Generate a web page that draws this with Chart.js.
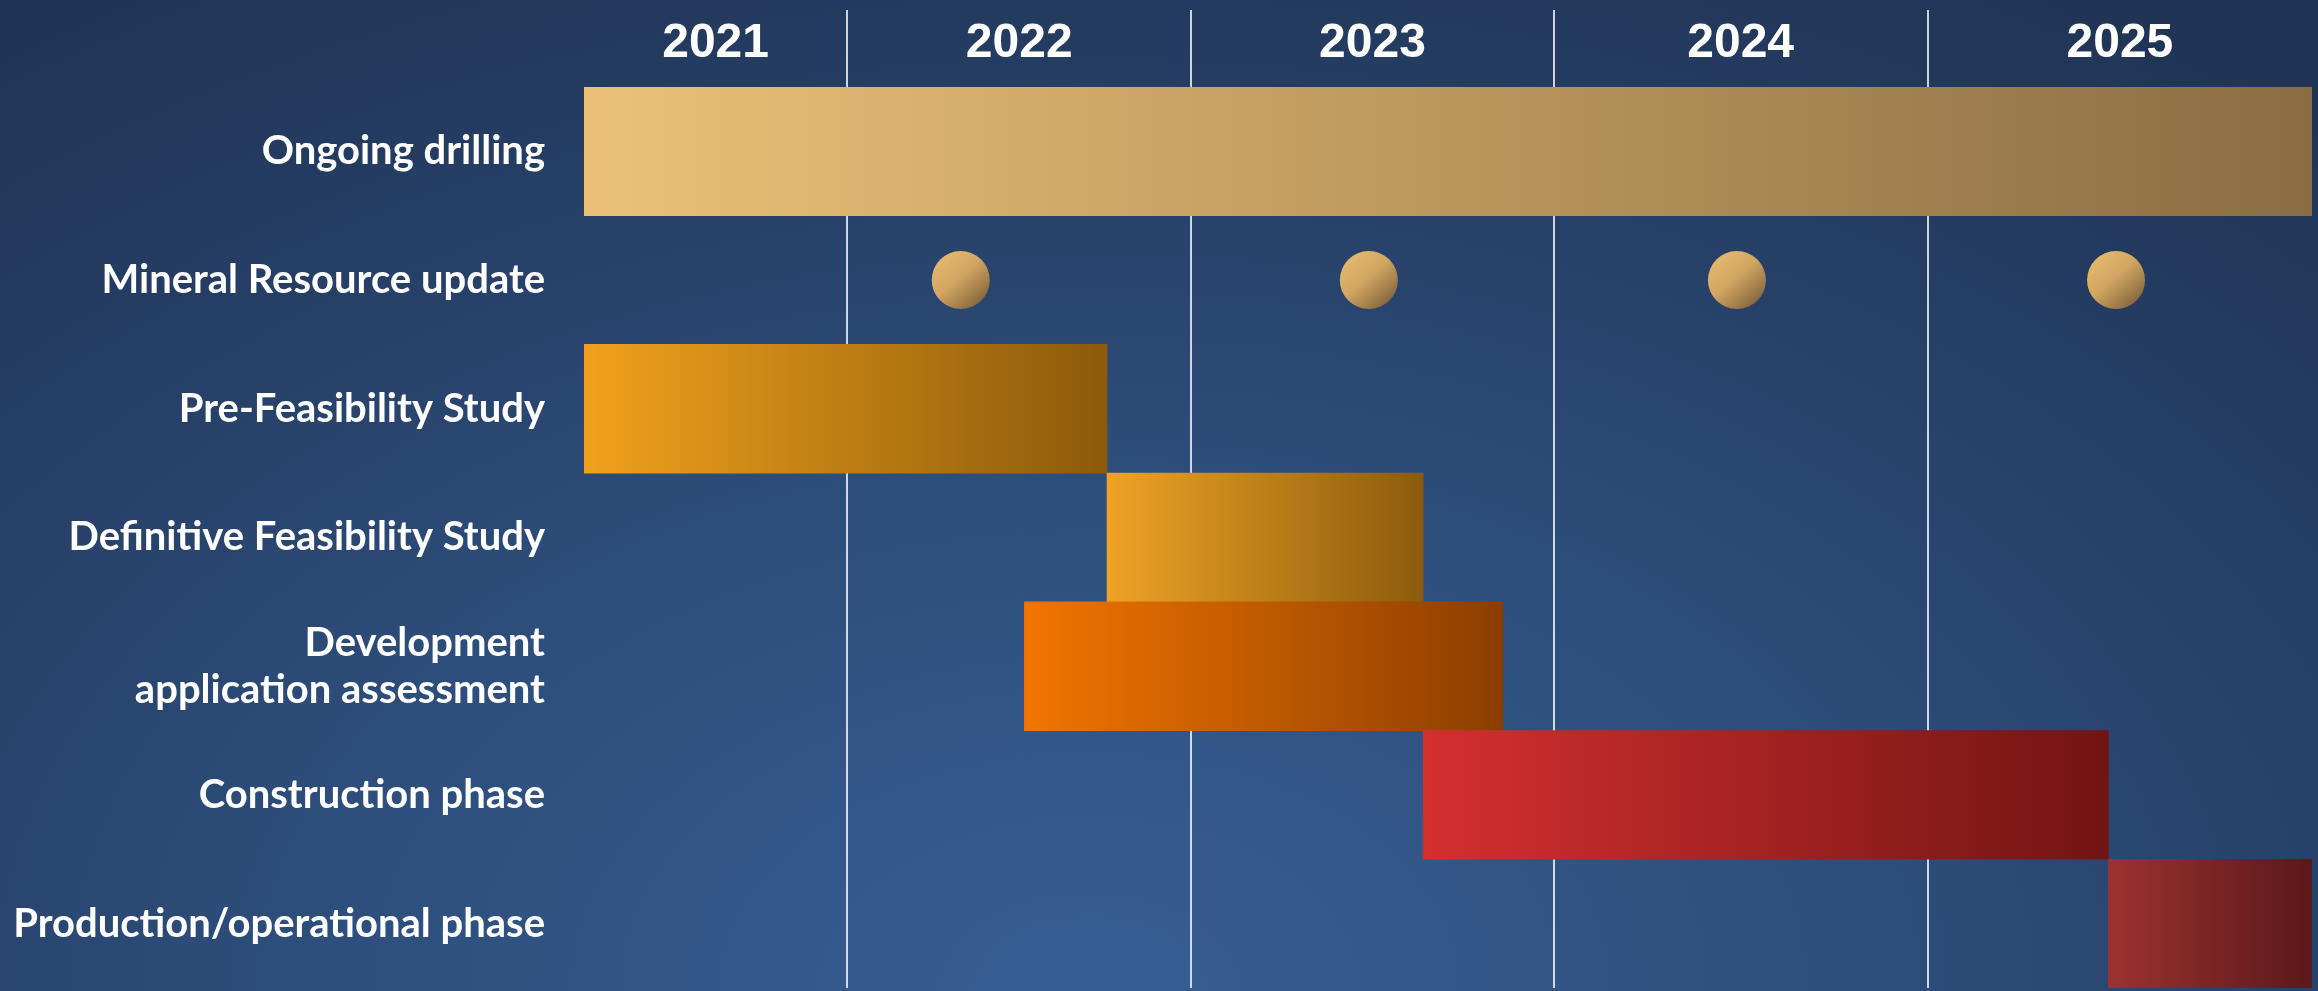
<!DOCTYPE html>
<html>
<head>
<meta charset="utf-8">
<title>Project timeline</title>
<script src="https://cdn.jsdelivr.net/npm/chart.js@4.4.1/dist/chart.umd.min.js"></script>
<style>
  html, body { margin: 0; padding: 0; }
  body {
    width: 2318px;
    height: 991px;
    overflow: hidden;
    background: radial-gradient(ellipse 80% 120% at 47% 100%, #375e93 0%, #2e4f7d 40%, #263f66 72%, #203455 100%);
  }
  #wrap { position: relative; width: 2318px; height: 991px; }
</style>
</head>
<body>
<div id="wrap"><canvas id="timeline"></canvas></div>
<script>
// rows, top to bottom
const categories = [
  'Ongoing drilling',
  'Mineral Resource update',
  'Pre-Feasibility Study',
  'Definitive Feasibility Study',
  ['Development', 'application assessment'],
  'Construction phase',
  'Production/operational phase'
];
const years = ['2021', '2022', '2023', '2024', '2025'];

// bar start / end in fractional years (null = no bar in that row)
const barStart = [2021.0, null, 2021.0, 2022.755, 2022.515, 2023.64, 2025.47];
const barEnd   = [2026.0, null, 2022.755, 2023.64, 2023.86, 2025.47, 2026.0];

// Mineral Resource update milestones
const milestones = [2022.33, 2023.49, 2024.49, 2025.49];

// year columns are not equally wide in the original slide
const columnWidths = [263, 344, 362, 374, 384];

const barColors = [
  ['#ecc177', '#8a6d43'],
  null,
  ['#f0a11c', '#8b5a0b'],
  ['#efa326', '#8b5b0d'],
  ['#f27500', '#8c3e00'],
  ['#d42f2f', '#721414'],
  ['#9c3232', '#5a1818']
];

const firstYear = Number(years[0]);
const lastYear = firstYear + years.length;

// linear scale whose year columns have their own widths
class YearScale extends Chart.LinearScale {
  getPixelForValue(value) {
    const total = columnWidths.reduce((a, b) => a + b, 0);
    let v = value - firstYear;
    let acc = 0;
    for (let i = 0; i < columnWidths.length; i++) {
      if (v <= 1 || i === columnWidths.length - 1) {
        acc += v * columnWidths[i];
        break;
      }
      acc += columnWidths[i];
      v -= 1;
    }
    return this.left + this.width * acc / total;
  }
  getValueForPixel(pixel) {
    const total = columnWidths.reduce((a, b) => a + b, 0);
    let d = (pixel - this.left) / this.width * total;
    let value = firstYear;
    for (let i = 0; i < columnWidths.length; i++) {
      if (d <= columnWidths[i] || i === columnWidths.length - 1) {
        return value + d / columnWidths[i];
      }
      d -= columnWidths[i];
      value += 1;
    }
    return value;
  }
}
YearScale.id = 'year';
YearScale.defaults = Chart.LinearScale.defaults;

// points only; big dots must not push the chart area in from the edges
class DotController extends Chart.LineController {
  getMaxOverflow() { return 0; }
}
DotController.id = 'dots';
DotController.defaults = Chart.LineController.defaults;

Chart.register(YearScale, DotController);

// ticks: whole years carry the grid lines, half years carry the labels
const tickValues = [];
for (let y = firstYear; y <= lastYear; y += 0.5) tickValues.push(y);

function isInnerLine(v) {
  return Number.isInteger(v) && v > firstYear && v < lastYear;
}

function barFill(ctx) {
  const chart = ctx.chart;
  const i = ctx.dataIndex;
  const cols = barColors[i];
  if (!cols || !chart.chartArea || barStart[i] === null) return 'transparent';
  const xs = chart.scales.x;
  const x0 = xs.getPixelForValue(barStart[i]);
  const x1 = xs.getPixelForValue(barEnd[i]);
  const g = chart.ctx.createLinearGradient(x0, 0, x1, 0);
  g.addColorStop(0, cols[0]);
  g.addColorStop(1, cols[1]);
  return g;
}

function dotFill(ctx) {
  const chart = ctx.chart;
  if (!chart.chartArea) return '#d0a862';
  const cx = chart.scales.x.getPixelForValue(milestones[ctx.dataIndex]);
  const cy = chart.scales.y.getPixelForValue(1);
  const r = 29;
  const g = chart.ctx.createLinearGradient(cx - r * 0.6, cy - r * 0.8, cx + r * 0.7, cy + r * 0.7);
  g.addColorStop(0, '#e3b76b');
  g.addColorStop(0.45, '#d2a663');
  g.addColorStop(1, '#8a6b3f');
  return g;
}

new Chart(document.getElementById('timeline'), {
  type: 'bar',
  data: {
    labels: categories,
    datasets: [
      {
        type: 'dots',
        label: 'Mineral Resource update',
        data: milestones.map(v => ({ x: v, y: categories[1] })),
        showLine: false,
        indexAxis: 'y',
        pointRadius: 29,
        pointHoverRadius: 29,
        pointBorderWidth: 0,
        pointBackgroundColor: dotFill,
        order: 0
      },
      {
        label: 'Phases',
        data: barStart.map((s, i) => s === null ? null : [s, barEnd[i]]),
        backgroundColor: barFill,
        borderWidth: 0,
        barPercentage: 1,
        categoryPercentage: 1,
        order: 1
      }
    ]
  },
  options: {
    indexAxis: 'y',
    responsive: true,
    maintainAspectRatio: false,
    animation: false,
    events: [],
    layout: { padding: { left: 0, right: 6, top: 0, bottom: 3 } },
    plugins: {
      legend: { display: false },
      tooltip: { enabled: false }
    },
    scales: {
      x: {
        type: 'year',
        position: 'top',
        min: firstYear,
        max: lastYear,
        z: 1,
        afterBuildTicks: scale => { scale.ticks = tickValues.map(v => ({ value: v })); },
        afterFit: scale => {
          scale.height = 87;
          scale.paddingLeft = 0;
          scale.paddingRight = 0;
        },
        border: { display: false },
        grid: {
          drawTicks: true,
          tickLength: 77,
          lineWidth: 2,
          color: ctx => (ctx.tick && isInnerLine(ctx.tick.value)) ? 'rgba(255,255,255,0.78)' : 'rgba(0,0,0,0)'
        },
        ticks: {
          autoSkip: false,
          maxRotation: 0,
          padding: -63,
          color: '#ffffff',
          font: { family: '"Liberation Sans", Arial, sans-serif', size: 48, weight: 'bold' },
          callback: value => Number.isInteger(value) ? '' : String(Math.floor(value))
        }
      },
      y: {
        afterFit: scale => {
          scale.width = 584;
          scale.paddingTop = 0;
          scale.paddingBottom = 0;
        },
        border: { display: false },
        grid: { display: false, drawTicks: false },
        ticks: {
          padding: 39,
          color: '#ffffff',
          font: { family: 'Lato, "Open Sans", sans-serif', size: 40, weight: 'bold', lineHeight: 1.18 }
        }
      }
    }
  }
});
</script>
</body>
</html>
